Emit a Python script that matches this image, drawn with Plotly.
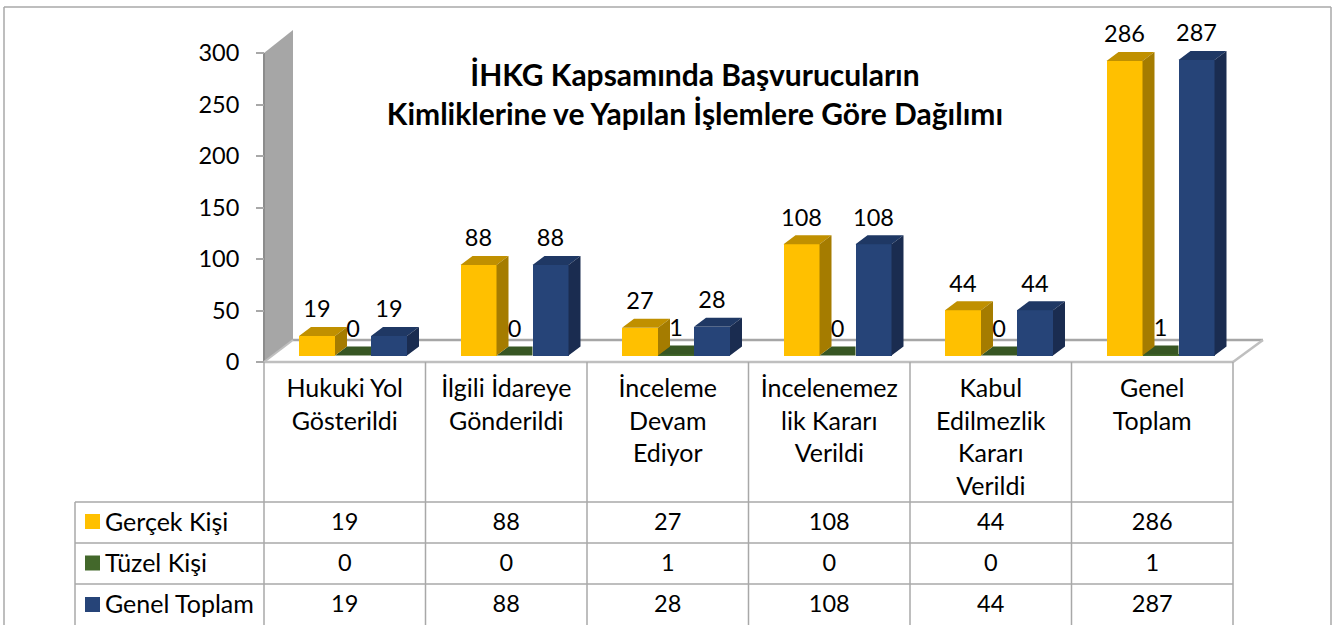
import plotly.graph_objects as go

# ---------- data ----------
categories = [
    ["Hukuki Yol", "Gösterildi"],
    ["İlgili İdareye", "Gönderildi"],
    ["İnceleme", "Devam", "Ediyor"],
    ["İncelenemez", "lik Kararı", "Verildi"],
    ["Kabul", "Edilmezlik", "Kararı", "Verildi"],
    ["Genel", "Toplam"],
]
series_names = ["Gerçek Kişi", "Tüzel Kişi", "Genel Toplam"]
gercek_kisi = [19, 88, 27, 108, 44, 286]
tuzel_kisi = [0, 0, 1, 0, 0, 1]
genel_toplam = [19, 88, 28, 108, 44, 287]
y_ticks = [0, 50, 100, 150, 200, 250, 300]
title_lines = ["İHKG Kapsamında Başvurucuların", "Kimliklerine ve Yapılan İşlemlere Göre Dağılımı"]

# ---------- layout constants (page pixels) ----------
W, H = 1336, 625
X0, CAT_W = 264.0, 161.5
Y0, PX_PER_UNIT = 362.0, 1.03
FONT = "Lato"
BIG = 23.5
NAME = 25
GRAY = "#A6A6A6"
LINE = "#A8A8A8"

def dx(px):
    return (px - X0) / CAT_W

def dy(py):
    return (Y0 - py) / PX_PER_UNIT

BASE = dy(355.6)
BAR_W = 36 / CAT_W
FIRST = 35 / CAT_W
DEPTH_X = 12 / CAT_W
DEPTH_Y = 9 / PX_PER_UNIT

colors = {
    0: ("#FFC000", "#C09000", "#A57C00"),
    1: ("#43682B", "#375623", "#2E481D"),
    2: ("#264478", "#1F3864", "#1A2C50"),
}
values = [gercek_kisi, tuzel_kisi, genel_toplam]

fig = go.Figure()

def polys(lst):
    xs, ys = [], []
    for p in lst:
        xs += [q[0] for q in p] + [p[0][0], None]
        ys += [q[1] for q in p] + [p[0][1], None]
    return xs, ys

def face(lst, color):
    xs, ys = polys(lst)
    fig.add_trace(go.Scatter(x=xs, y=ys, mode="lines", fill="toself", fillcolor=color,
                             line=dict(width=0, color=color), hoverinfo="skip", showlegend=False))

# front faces: real bars on the value axis
for s in (1, 0, 2):
    fig.add_trace(go.Bar(
        x=[i + FIRST + s * BAR_W + BAR_W / 2 for i in range(6)],
        y=values[s], base=BASE, width=BAR_W, name=series_names[s],
        marker=dict(color=colors[s][0], line=dict(width=0)), showlegend=False,
    ))

# depth faces derived from the values (green first, so neighbours cover it)
for s in (1, 0, 2):
    tops, sides = [], []
    for i, v in enumerate(values[s]):
        l = i + FIRST + s * BAR_W
        r = l + BAR_W
        t = BASE + v
        if s == 1:
            # the part behind the blue front is hidden
            tops.append([(l, t), (r, t), (r, t + DEPTH_Y), (l + DEPTH_X, t + DEPTH_Y)])
        else:
            tops.append([(l, t), (r, t), (r + DEPTH_X, t + DEPTH_Y), (l + DEPTH_X, t + DEPTH_Y)])
            sides.append([(r, BASE), (r, t), (r + DEPTH_X, t + DEPTH_Y), (r + DEPTH_X, BASE + DEPTH_Y)])
    face(tops, colors[s][1])
    if sides:
        face(sides, colors[s][2])

# value labels above the bars
for s in range(3):
    fig.add_trace(go.Scatter(
        x=[i + FIRST + s * BAR_W + BAR_W / 2 for i in range(6)],
        y=[BASE + v + 24.5 / PX_PER_UNIT for v in values[s]],
        mode="text", text=[str(v) for v in values[s]], textposition="middle center",
        textfont=dict(family=FONT, size=BIG, color="#000000"),
        hoverinfo="skip", showlegend=False,
    ))

# data table
row_y = [524.5, 565.5, 606.5]
key_y = [521.5, 563, 604.5]
for s in range(3):
    fig.add_trace(go.Scatter(
        x=[i + 0.5 for i in range(6)], y=[dy(row_y[s])] * 6,
        mode="text", text=[str(v) for v in values[s]], textposition="middle center",
        textfont=dict(family=FONT, size=BIG, color="#000000"),
        hoverinfo="skip", showlegend=False,
    ))
    fig.add_trace(go.Scatter(
        x=[dx(92.5)], y=[dy(key_y[s])], mode="markers",
        marker=dict(symbol="square", size=15, color=colors[s][0], line=dict(width=0)),
        hoverinfo="skip", showlegend=False,
    ))
    fig.add_trace(go.Scatter(
        x=[dx(105)], y=[dy(row_y[s])], mode="text", text=[series_names[s]],
        textposition="middle right",
        textfont=dict(family=FONT, size=NAME, color="#000000"),
        hoverinfo="skip", showlegend=False,
    ))

# ---------- decoration ----------
def seg(x0, y0, x1, y1, color=LINE, width=1.5):
    return dict(type="line", xref="x", yref="y", layer="below",
                x0=dx(x0), y0=dy(y0), x1=dx(x1), y1=dy(y1), line=dict(color=color, width=width))

shapes = [
    # outer frame (runs off the bottom of the page)
    seg(4, 7, 4, 625), seg(4, 7, 1331, 7), seg(1331, 7, 1331, 625),
    # wall
    dict(type="path", xref="x", yref="y", layer="below", fillcolor=GRAY, line=dict(width=0),
         path=f"M{dx(264)},{dy(53)} L{dx(293)},{dy(30)} L{dx(293)},{dy(340)} L{dx(264)},{dy(362)} Z"),
    seg(264, 53, 264, 362, "#8C8C8C", 2),
    # floor
    seg(293, 340, 1263, 340, GRAY, 2.5),
    seg(264, 362, 1233, 362, "#BFBFBF", 2.5),
    seg(1233, 362, 1263, 340, "#BFBFBF", 2.5),
    seg(264, 362, 293, 340, "#BFBFBF", 2),
]
for i in range(7):
    shapes.append(seg(X0 + i * CAT_W, 362, X0 + i * CAT_W, 625))
shapes.append(seg(75, 502, 75, 625))
for y in (502, 543, 584):
    shapes.append(seg(75, y, 1233, y))

fig.update_layout(
    width=W, height=H, margin=dict(l=0, r=0, t=0, b=0, pad=0),
    paper_bgcolor="white", plot_bgcolor="rgba(0,0,0,0)",
    showlegend=False, barmode="overlay", bargap=0,
    font=dict(family=FONT, color="#000000"),
    shapes=shapes,
    title=dict(
        text="<br>".join(title_lines),
        font=dict(family=FONT, size=30, color="#000000", weight="bold"),
        x=695 / W, xanchor="center", xref="paper",
        y=1 - 86 / H, yanchor="top", yref="paper",
    ),
    xaxis=dict(
        domain=[0, 1], range=[dx(0), dx(W)], anchor="free", position=1 - Y0 / H,
        tickmode="array", tickvals=[i + 0.5 for i in range(6)],
        ticktext=["<br>".join(c) for c in categories],
        tickfont=dict(family=FONT, size=NAME, color="#000000"), tickangle=0,
        ticks="", showgrid=False, zeroline=False, showline=False, ticklabelstandoff=9,
    ),
    yaxis=dict(
        domain=[0, 1], range=[dy(H), dy(0)], anchor="free", position=X0 / W,
        tickmode="array", tickvals=y_ticks,
        tickfont=dict(family=FONT, size=BIG, color="#000000"),
        ticks="outside", ticklen=8, tickwidth=1.5, tickcolor=LINE, ticklabelstandoff=12,
        showgrid=False, zeroline=False, showline=False,
    ),
)

fig.write_html(
    "out.html",
    config=dict(displayModeBar=False),
    post_script="document.body.style.margin='0';document.documentElement.style.overflow='hidden';",
)
